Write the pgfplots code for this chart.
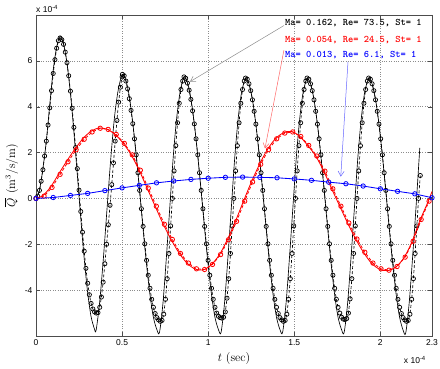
\documentclass[border=0pt]{standalone}
\usepackage{pgfplots}
\pgfplotsset{compat=1.18}
\usepackage{fontspec}
\newfontfamily\hv{Liberation Sans}
\usetikzlibrary{arrows.meta}
\begin{document}
\begin{tikzpicture}
\begin{axis}[
  scale only axis, width=396pt, height=321pt,
  xmin=0, xmax=2.3, ymin=-6, ymax=8,
  xtick={0,0.5,1,1.5,2,2.3}, xticklabels={0,0.5,1,1.5,2,2.3},
  ytick={-4,-2,0,2,4,6}, yticklabels={-4,-2,0,2,4,6},
  tick label style={font=\hv\fontsize{8.5}{10}\selectfont},
  grid=major, major grid style={dotted, black!45, line width=0.5pt},
  tick align=inside, major tick length=4pt,
  axis line style={black!70}, tick style={black!70},
  xlabel={$t$ (sec)}, ylabel={$\overline{Q}\ (\mathrm{m^3/s/m})$},
  label style={font=\fontsize{12}{14}\selectfont},
  clip mode=individual,
]
% black solid
\addplot[black, line width=0.65pt, smooth] coordinates {
(0,0) (0.02,0.35) (0.04,1.3) (0.06,2.5) (0.08,4.1) (0.10,5.6) (0.12,6.6) (0.139,7.06)
(0.159,6.78) (0.179,5.95) (0.199,4.65) (0.219,3.0) (0.239,1.13) (0.259,-0.77) (0.279,-2.55) (0.299,-4.04) (0.319,-5.12) (0.339,-5.68) (0.349,-5.75)
(0.370,-4.5) (0.392,-2.55) (0.413,-0.4) (0.435,1.8) (0.456,3.55) (0.478,4.75) (0.502,5.41)
(0.522,5.15) (0.542,4.45) (0.562,3.3) (0.582,1.9) (0.602,0.3) (0.622,-1.34) (0.642,-2.88) (0.662,-4.2) (0.682,-5.19) (0.702,-5.72) (0.717,-5.85)
(0.737,-4.6) (0.757,-2.6) (0.777,-0.4) (0.797,1.8) (0.817,3.5) (0.837,4.65) (0.8595,5.3)
(0.8795,5.05) (0.8995,4.35) (0.9195,3.25) (0.9395,1.85) (0.9595,0.28) (0.9795,-1.34) (0.9995,-2.88) (1.0195,-4.2) (1.0395,-5.19) (1.0595,-5.72) (1.0745,-5.85)
(1.0945,-4.6) (1.1145,-2.6) (1.1345,-0.4) (1.1545,1.8) (1.1745,3.5) (1.1945,4.65) (1.217,5.22)
(1.237,5.0) (1.257,4.32) (1.277,3.23) (1.297,1.85) (1.317,0.28) (1.337,-1.34) (1.357,-2.88) (1.377,-4.2) (1.397,-5.19) (1.417,-5.72) (1.432,-5.85)
(1.452,-4.6) (1.472,-2.6) (1.492,-0.4) (1.512,1.8) (1.532,3.5) (1.552,4.65) (1.5745,5.22)
(1.5945,5.0) (1.6145,4.32) (1.6345,3.23) (1.6545,1.85) (1.6745,0.28) (1.6945,-1.34) (1.7145,-2.88) (1.7345,-4.2) (1.7545,-5.19) (1.7745,-5.72) (1.7895,-5.85)
(1.8095,-4.6) (1.8295,-2.6) (1.8495,-0.4) (1.8695,1.8) (1.8895,3.5) (1.9095,4.65) (1.932,5.22)
(1.952,5.0) (1.972,4.32) (1.992,3.23) (2.012,1.85) (2.032,0.28) (2.052,-1.34) (2.072,-2.88) (2.092,-4.2) (2.112,-5.19) (2.132,-5.74) (2.147,-5.88)
(2.167,-4.6) (2.187,-2.6) (2.207,-0.4) (2.229,2.2)
};
% black dashed with circles
\addplot[black, line width=0.65pt, dash pattern=on 3pt off 2pt, mark=o, mark size=2.1pt, mark options={solid, line width=0.7pt}] coordinates {
(0,0) (0.01,0.1) (0.02,0.35) (0.03,0.75) (0.04,1.25) (0.05,1.85) (0.06,2.5) (0.07,3.2) (0.08,3.95) (0.09,4.7) (0.10,5.45) (0.11,6.05) (0.12,6.55) (0.13,6.88) (0.14,7.0) (0.15,6.92) (0.16,6.72) (0.17,6.38) (0.18,5.92) (0.19,5.35) (0.20,4.68) (0.21,3.93) (0.22,3.1) (0.23,2.22) (0.24,1.3) (0.25,0.36) (0.26,-0.57) (0.27,-1.47) (0.28,-2.3) (0.29,-3.05) (0.30,-3.7) (0.31,-4.2) (0.32,-4.58) (0.33,-4.82) (0.34,-4.95) (0.35,-5.0) (0.36,-4.98) (0.37,-4.75) (0.38,-4.3) (0.39,-3.65) (0.40,-2.85) (0.41,-2.0) (0.42,-1.15) (0.43,-0.3) (0.44,0.6) (0.45,1.55) (0.46,2.5) (0.47,3.4) (0.48,4.2) (0.49,4.85) (0.50,5.3)
(0.502,5.41) (0.512,5.35) (0.522,5.12) (0.532,4.78) (0.542,4.35) (0.552,3.84) (0.562,3.26) (0.572,2.6) (0.582,1.9) (0.592,1.12) (0.602,0.35) (0.612,-0.45) (0.622,-1.22) (0.632,-1.98) (0.642,-2.7) (0.652,-3.35) (0.662,-3.92) (0.672,-4.4) (0.682,-4.75) (0.692,-5.02) (0.702,-5.2) (0.712,-5.3) (0.722,-5.36) (0.732,-5.32) (0.742,-5.05) (0.752,-4.4) (0.762,-3.5) (0.772,-2.4) (0.782,-1.2) (0.792,0.0) (0.802,1.2) (0.812,2.3) (0.822,3.3) (0.832,4.15) (0.842,4.75) (0.852,5.12)
(0.8595,5.3) (0.8695,5.24) (0.8795,5.03) (0.8895,4.72) (0.8995,4.32) (0.9095,3.82) (0.9195,3.25) (0.9295,2.6) (0.9395,1.9) (0.9495,1.12) (0.9595,0.35) (0.9695,-0.45) (0.9795,-1.22) (0.9895,-1.98) (0.9995,-2.7) (1.0095,-3.35) (1.0195,-3.92) (1.0295,-4.4) (1.0395,-4.75) (1.0495,-5.0) (1.0595,-5.14) (1.0695,-5.2) (1.0795,-5.22) (1.0895,-5.18) (1.0995,-4.95) (1.1095,-4.35) (1.1195,-3.5) (1.1295,-2.4) (1.1395,-1.2) (1.1495,0.0) (1.1595,1.2) (1.1695,2.3) (1.1795,3.3) (1.1895,4.15) (1.1995,4.75) (1.2095,5.12)
(1.217,5.25) (1.227,5.2) (1.237,5.0) (1.247,4.7) (1.257,4.3) (1.267,3.8) (1.277,3.24) (1.287,2.6) (1.297,1.9) (1.307,1.12) (1.317,0.35) (1.327,-0.45) (1.337,-1.22) (1.347,-1.98) (1.357,-2.7) (1.367,-3.35) (1.377,-3.92) (1.387,-4.4) (1.397,-4.75) (1.407,-5.02) (1.417,-5.2) (1.427,-5.3) (1.437,-5.36) (1.447,-5.32) (1.457,-5.05) (1.467,-4.4) (1.477,-3.5) (1.487,-2.4) (1.497,-1.2) (1.507,0.0) (1.517,1.2) (1.527,2.3) (1.537,3.3) (1.547,4.15) (1.557,4.75) (1.567,5.12)
(1.5745,5.25) (1.5845,5.2) (1.5945,5.0) (1.6045,4.7) (1.6145,4.3) (1.6245,3.8) (1.6345,3.24) (1.6445,2.6) (1.6545,1.9) (1.6645,1.12) (1.6745,0.35) (1.6845,-0.45) (1.6945,-1.22) (1.7045,-1.98) (1.7145,-2.7) (1.7245,-3.35) (1.7345,-3.92) (1.7445,-4.4) (1.7545,-4.75) (1.7645,-5.0) (1.7745,-5.18) (1.7845,-5.26) (1.7945,-5.28) (1.8045,-5.24) (1.8145,-5.0) (1.8245,-4.38) (1.8345,-3.5) (1.8445,-2.4) (1.8545,-1.2) (1.8645,0.0) (1.8745,1.2) (1.8845,2.3) (1.8945,3.3) (1.9045,4.15) (1.9145,4.75) (1.9245,5.12)
(1.932,5.25) (1.942,5.2) (1.952,5.0) (1.962,4.7) (1.972,4.3) (1.982,3.8) (1.992,3.24) (2.002,2.6) (2.012,1.9) (2.022,1.12) (2.032,0.35) (2.042,-0.45) (2.052,-1.22) (2.062,-1.98) (2.072,-2.7) (2.082,-3.35) (2.092,-3.92) (2.102,-4.4) (2.112,-4.75) (2.122,-5.02) (2.132,-5.2) (2.142,-5.3) (2.152,-5.36) (2.162,-5.32) (2.172,-5.05) (2.182,-4.4) (2.192,-3.5) (2.202,-2.4) (2.212,-1.2) (2.222,0.0) (2.232,1.0)
};
% red solid
\addplot[red, line width=0.85pt, smooth] coordinates {
(0,0) (0.039,0.12) (0.085,0.5) (0.132,1.07) (0.178,1.62) (0.225,2.14) (0.272,2.6) (0.318,2.92) (0.365,3.07) (0.411,3.02) (0.458,2.8) (0.505,2.42) (0.551,1.92) (0.598,1.25) (0.644,0.47) (0.691,-0.32) (0.738,-1.11) (0.784,-1.78) (0.831,-2.38) (0.877,-2.82) (0.924,-3.08) (0.971,-3.12) (1.017,-2.9) (1.064,-2.47) (1.110,-1.82) (1.157,-1.02) (1.204,-0.14) (1.250,0.7) (1.297,1.47) (1.343,2.12) (1.390,2.6) (1.437,2.86) (1.483,2.92) (1.530,2.72) (1.576,2.33) (1.623,1.87) (1.670,1.21) (1.716,0.44) (1.763,-0.32) (1.809,-1.06) (1.856,-1.76) (1.902,-2.35) (1.949,-2.83) (1.996,-3.09) (2.042,-3.15) (2.089,-3.0) (2.136,-2.6) (2.182,-1.92) (2.229,-0.98) (2.275,-0.18) (2.3,0.3)
};
% red dashed with circles
\addplot[red, line width=0.85pt, dash pattern=on 3pt off 2pt, mark=o, mark size=2.2pt, mark options={solid, line width=0.8pt}] coordinates {
(0,0) (0.047,0.1) (0.093,0.48) (0.140,1.05) (0.186,1.6) (0.233,2.12) (0.280,2.58) (0.326,2.9) (0.373,3.06) (0.419,3.01) (0.466,2.79) (0.513,2.4) (0.559,1.9) (0.606,1.23) (0.652,0.45) (0.699,-0.34) (0.746,-1.13) (0.792,-1.79) (0.839,-2.4) (0.885,-2.82) (0.932,-3.07) (0.979,-3.1) (1.025,-2.88) (1.072,-2.45) (1.118,-1.8) (1.165,-1.0) (1.212,-0.12) (1.258,0.72) (1.305,1.49) (1.351,2.13) (1.398,2.6) (1.445,2.85) (1.491,2.9) (1.538,2.7) (1.584,2.31) (1.631,1.85) (1.678,1.19) (1.724,0.42) (1.771,-0.34) (1.817,-1.07) (1.864,-1.77) (1.910,-2.35) (1.957,-2.82) (2.004,-3.07) (2.050,-3.13) (2.097,-2.97) (2.144,-2.56) (2.190,-1.87) (2.237,-0.92) (2.283,-0.12)
};
% blue with circles
\addplot[blue, line width=0.85pt, mark=o, mark size=2.2pt, mark options={solid, line width=0.8pt}] coordinates {
(0,0) (0.1,0.04) (0.2,0.13) (0.3,0.22) (0.4,0.34) (0.5,0.46) (0.6,0.57) (0.7,0.68) (0.8,0.76) (0.9,0.83) (1.0,0.88) (1.1,0.92) (1.2,0.93) (1.3,0.92) (1.4,0.9) (1.5,0.85) (1.6,0.79) (1.7,0.71) (1.8,0.64) (1.9,0.54) (2.0,0.42) (2.1,0.31) (2.2,0.2) (2.3,0.03)
};
% annotations
\draw[black!45, line width=0.5pt, -{Straight Barb[length=5pt,width=6pt]}] (axis cs:1.44,7.54) -- (axis cs:0.894,5.09);
\draw[red!60, line width=0.5pt, -{Straight Barb[length=5pt,width=6pt]}] (axis cs:1.44,6.47) -- (axis cs:1.330,2.18);
\draw[blue!60, line width=0.5pt, -{Straight Barb[length=5pt,width=6pt]}] (axis cs:1.812,5.95) -- (axis cs:1.770,0.95);
\node[anchor=west, inner sep=0pt, font=\ttfamily\bfseries\fontsize{10}{12}\selectfont, text=black] at (axis cs:1.446,7.63) {Ma= 0.162, Re= 73.5, St= 1};
\node[anchor=west, inner sep=0pt, font=\ttfamily\bfseries\fontsize{10}{12}\selectfont, text=red] at (axis cs:1.446,6.9) {Ma= 0.054, Re= 24.5, St= 1};
\node[anchor=west, inner sep=0pt, font=\ttfamily\bfseries\fontsize{10}{12}\selectfont, text=blue] at (axis cs:1.446,6.25) {Ma= 0.013, Re= 6.1, St= 1};
\node[anchor=south west, inner sep=0pt, font=\hv\fontsize{8.5}{10}\selectfont] at (rel axis cs:0,1) [yshift=2pt] {x 10\textsuperscript{-4}};
\node[anchor=north east, inner sep=0pt, font=\hv\fontsize{8.5}{10}\selectfont] at (rel axis cs:1,0) [xshift=-6pt, yshift=-20pt] {x 10\textsuperscript{-4}};
\coordinate (bl) at (rel axis cs:0,0);
\coordinate (tr) at (rel axis cs:1,1);
\end{axis}
\pgfresetboundingbox
\path ([shift={(-36pt,-33pt)}]bl) rectangle ([shift={(8pt,15pt)}]tr);
\end{tikzpicture}
\end{document}
